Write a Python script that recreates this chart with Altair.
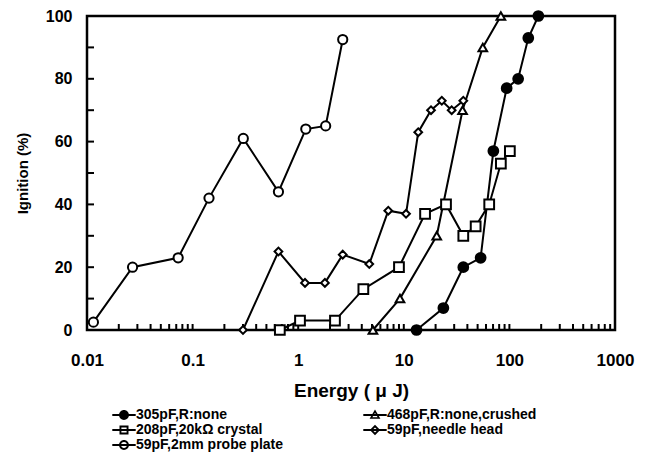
import altair as alt
import pandas as pd

series_names = ["305pF,R:none", "468pF,R:none,crushed", "208pF,20kΩ crystal",
                "59pF,needle head", "59pF,2mm probe plate"]

e_305 = [13.2, 23.7, 36.6, 53.4, 70.5, 94.2, 121, 151, 188]
i_305 = [0, 7, 20, 23, 57, 77, 80, 93, 100]

e_468 = [5.1, 9.2, 20.5, 36, 56, 83]
i_468 = [0, 10, 30, 70, 90, 100]

e_208 = [0.67, 1.04, 2.23, 4.14, 9.0, 15.9, 25.1, 36.6, 47.9, 64.4, 83, 101]
i_208 = [0, 3, 3, 13, 20, 37, 40, 30, 33, 40, 53, 57]

e_needle = [0.30, 0.65, 1.16, 1.79, 2.64, 4.71, 7.13, 10.5, 13.7, 18.1, 22.9, 28.4, 36.6]
i_needle = [0, 25, 15, 15, 24, 21, 38, 37, 63, 70, 73, 70, 73]

e_plate = [0.0115, 0.027, 0.073, 0.143, 0.302, 0.65, 1.18, 1.82, 2.64]
i_plate = [2.5, 20, 23, 42, 61, 44, 64, 65, 92.5]

shapes = ["circle", "triangle-up", "square", "diamond", "circle"]
fills = ["black", "white", "white", "white", "white"]
sizes = [95, 75, 95, 60, 85]

# legend glyphs: a horizontal line through the marker, drawn as filled outlines
bar = "M-2.6,-0.22H2.6V0.22H-2.6Z"
circ_out = "M-1.1,0A1.1,1.1,0,1,1,1.1,0A1.1,1.1,0,1,1,-1.1,0Z"
circ_in = "M-0.66,0A0.66,0.66,0,1,0,0.66,0A0.66,0.66,0,1,0,-0.66,0Z"
legend_shapes = [
    bar + circ_out,
    bar + "M0,-1.2L1.2,0.85H-1.2Z" + "M0,-0.5L-0.58,0.5H0.58Z",
    bar + "M-1,-1H1V1H-1Z" + "M-0.58,-0.58V0.58H0.58V-0.58Z",
    bar + "M0,-1.15L1.15,0L0,1.15L-1.15,0Z" + "M0,-0.58L-0.58,0L0,0.58L0.58,0Z",
    bar + circ_out + circ_in,
]

rows = []
for name, es, ys in zip(series_names,
                        [e_305, e_468, e_208, e_needle, e_plate],
                        [i_305, i_468, i_208, i_needle, i_plate]):
    for k, (e, y) in enumerate(zip(es, ys)):
        rows.append({"series": name, "energy": e, "ignition": y, "idx": k})
df = pd.DataFrame(rows)

x_ticks = [m * 10 ** k for k in range(-2, 3) for m in range(1, 10)] + [1000]
y_ticks = list(range(0, 101, 10))
x_decades = [0.01, 0.1, 1, 10, 100, 1000]
y_labels = list(range(0, 101, 20))

FONT = "Liberation Sans"

x_scale = alt.Scale(type="log", domain=[0.01, 1000], nice=False)
y_scale = alt.Scale(domain=[0, 100], nice=False)

x_axis = alt.Axis(values=x_decades, format="~g", ticks=False,
                  domain=False, grid=False, labelOverlap=False, labelFlush=False,
                  labelFont=FONT, labelFontSize=17, labelFontWeight="bold",
                  labelColor="black", labelPadding=22,
                  title="Energy ( μ J)", titleFont=FONT, titleFontSize=19,
                  titleFontWeight="bold", titleColor="black", titlePadding=13)
y_axis = alt.Axis(values=y_labels, ticks=False,
                  domain=False, grid=False, labelOverlap=False, labelFlush=False,
                  labelFont=FONT, labelFontSize=16, labelFontWeight="bold",
                  labelColor="black", labelPadding=15,
                  title="Ignition (%)", titleFont=FONT, titleFontSize=15,
                  titleFontWeight="bold", titleColor="black", titlePadding=15)

x_enc = alt.X("energy:Q", scale=x_scale, axis=x_axis)
y_enc = alt.Y("ignition:Q", scale=y_scale, axis=y_axis)

base = alt.Chart(df)

# inward tick marks (rect-based tick marks), positioned through the chart's scales
xt_df = pd.DataFrame({"energy": x_ticks})
yt_df = pd.DataFrame({"ignition": y_ticks})
x_tick_layer = alt.Chart(xt_df).mark_tick(
    orient="vertical", color="black", thickness=2, size=6, opacity=1).encode(
    x=alt.X("energy:Q", scale=x_scale, axis=x_axis),
    y=alt.datum(0.96))
y_tick_layer = alt.Chart(yt_df).mark_tick(
    orient="horizontal", color="black", thickness=2, size=7, opacity=1).encode(
    y=alt.Y("ignition:Q", scale=y_scale, axis=y_axis),
    x=alt.datum(0.0108))

lines = base.mark_line(color="black", strokeWidth=2).encode(
    x=x_enc, y=y_enc, detail="series:N", order="idx:Q")

point_layers = []
for name, shp, fc, sz in zip(series_names, shapes, fills, sizes):
    point_layers.append(
        base.transform_filter(alt.datum.series == name)
        .mark_point(shape=shp, fill=fc, filled=False, stroke="black", strokeWidth=2,
                    size=sz, opacity=1, fillOpacity=1)
        .encode(x=x_enc, y=y_enc)
    )

leg = alt.Legend(orient="none", legendX=30, legendY=392, columns=2, direction="horizontal",
                 title=None,
                 labelFont=FONT, labelFontSize=14, labelFontWeight="bold", labelColor="black",
                 symbolSize=81, symbolFillColor="black", symbolStrokeWidth=0,
                 symbolOpacity=1,
                 labelOffset=5, columnPadding=79, rowPadding=1, padding=0,
                 labelLimit=300)

legend_layer = base.transform_filter("false").mark_point(
    filled=True, color="black", opacity=1, strokeWidth=0).encode(
    x=x_enc, y=y_enc,
    shape=alt.Shape("series:N", scale=alt.Scale(domain=series_names, range=legend_shapes), legend=leg),
)

chart = alt.layer(lines, x_tick_layer, y_tick_layer, *point_layers, legend_layer).properties(
    width=528, height=314,
    padding={"left": 79, "top": 8, "right": 29, "bottom": 122},
    autosize=alt.AutoSizeParams(type="none"),
    background="white",
).configure_view(stroke="black", strokeWidth=2.5).configure_legend(rowPadding=1)

chart.save("out.html", embed_options={"renderer": "svg", "actions": False})
